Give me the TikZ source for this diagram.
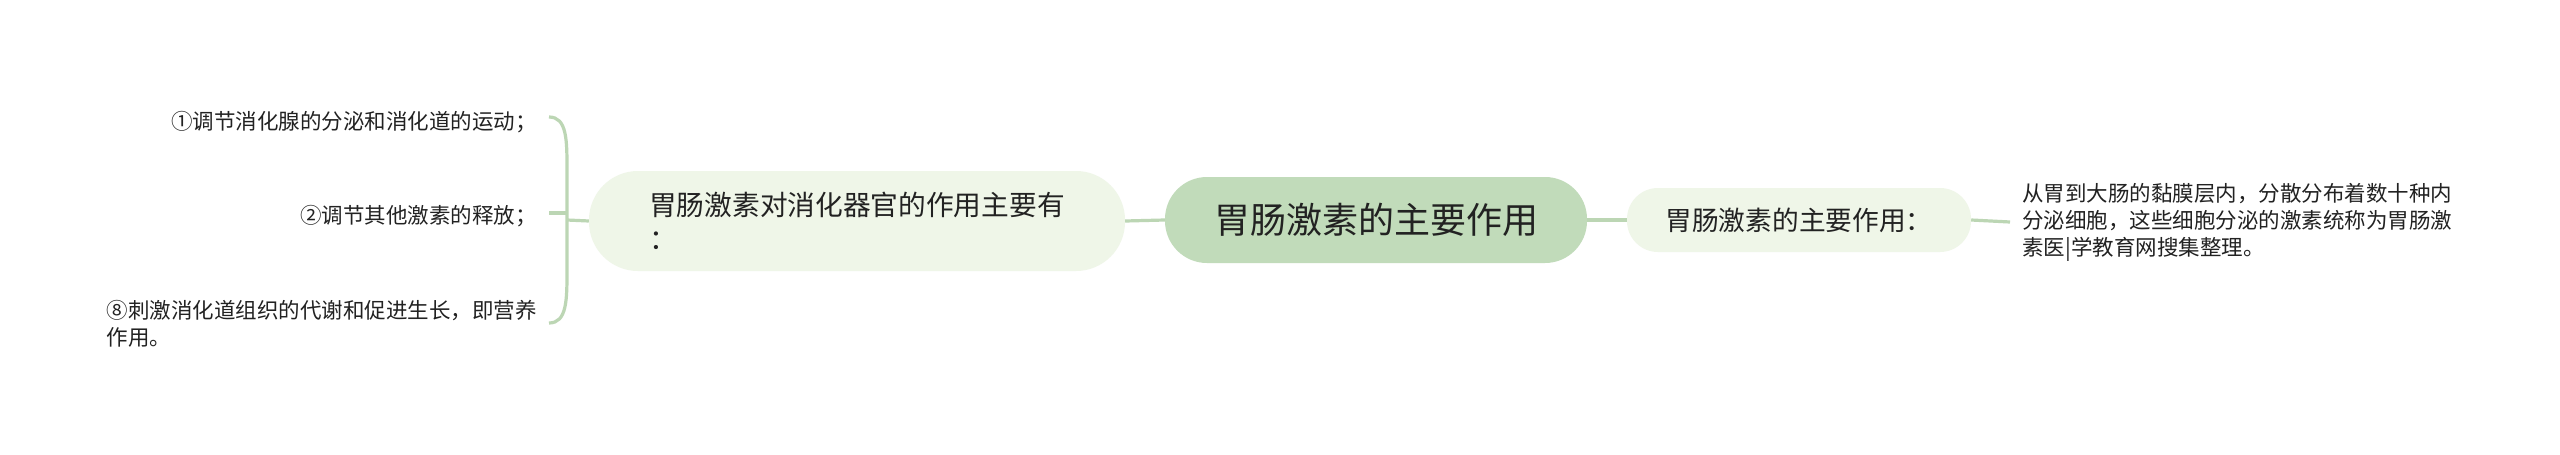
\documentclass[tikz,border=0pt]{standalone}
\usepackage{fontspec}
\setmainfont{Noto Sans CJK SC}
\definecolor{lineC}{RGB}{188,214,180}
\definecolor{rootFill}{RGB}{193,219,186}
\definecolor{lightFill}{RGB}{239,246,232}
\definecolor{txt}{RGB}{34,34,34}
\begin{document}
\begin{tikzpicture}[x=1pt,y=-1pt,
  link/.style={draw=lineC, line width=3.2pt},
  rootbox/.style={fill=rootFill, rounded corners=42pt, minimum width=422pt, minimum height=86pt, inner sep=0pt, text=txt, font=\fontsize{36}{43}\selectfont},
  mainbox/.style={fill=lightFill, inner sep=0pt, text=txt},
  leaf/.style={inner sep=12pt, text=txt, align=left, font=\fontsize{21.5}{27}\selectfont}
]
\useasboundingbox (0,0) rectangle (2560,455);
\fill[white] (0,0) rectangle (2560,455);

\node[rootbox] (root) at (1376,220) {胃肠激素的主要作用};

\node[mainbox, rounded corners=49pt, minimum width=536pt, minimum height=100pt, align=left,
  font=\fontsize{27.7}{34}\selectfont] (left) at (857,221) {胃肠激素对消化器官的作用主要有\\：};

\node[mainbox, rounded corners=31pt, minimum width=344pt, minimum height=64pt,
  font=\fontsize{26.7}{32}\selectfont] (right) at (1799,220) {胃肠激素的主要作用：};

\node[leaf, anchor=west] (desc) at (2010,222) {从胃到大肠的黏膜层内，分散分布着数十种内\\分泌细胞，这些细胞分泌的激素统称为胃肠激\\素医|学教育网搜集整理。};

\node[leaf, anchor=east] (c1) at (549,122) {①调节消化腺的分泌和消化道的运动；};
\node[leaf, anchor=east] (c2) at (549,216) {②调节其他激素的释放；};
\node[leaf, anchor=east] (c3) at (549,324) {⑧刺激消化道组织的代谢和促进生长，即营养\\作用。};

\coordinate (bt) at (567,170);
\coordinate (bb) at (567,270);
\coordinate (bm) at (567,213);
\coordinate (bj) at (567,220);

\draw[link] (left.east) -- (root.west);
\draw[link] (root.east) -- (right.west);
\draw[link] (right.east) -- (desc.west);

\draw[link] ([yshift=5pt]c1.east) .. controls (567,117) and (567,140) .. (bt) -- (bb)
  .. controls (567,300) and (567,323) .. ([yshift=1pt]c3.east);
\draw[link] ([yshift=3pt]c2.east) -- (bm);
\draw[link] (bj) -- (left.west);
\end{tikzpicture}
\end{document}
